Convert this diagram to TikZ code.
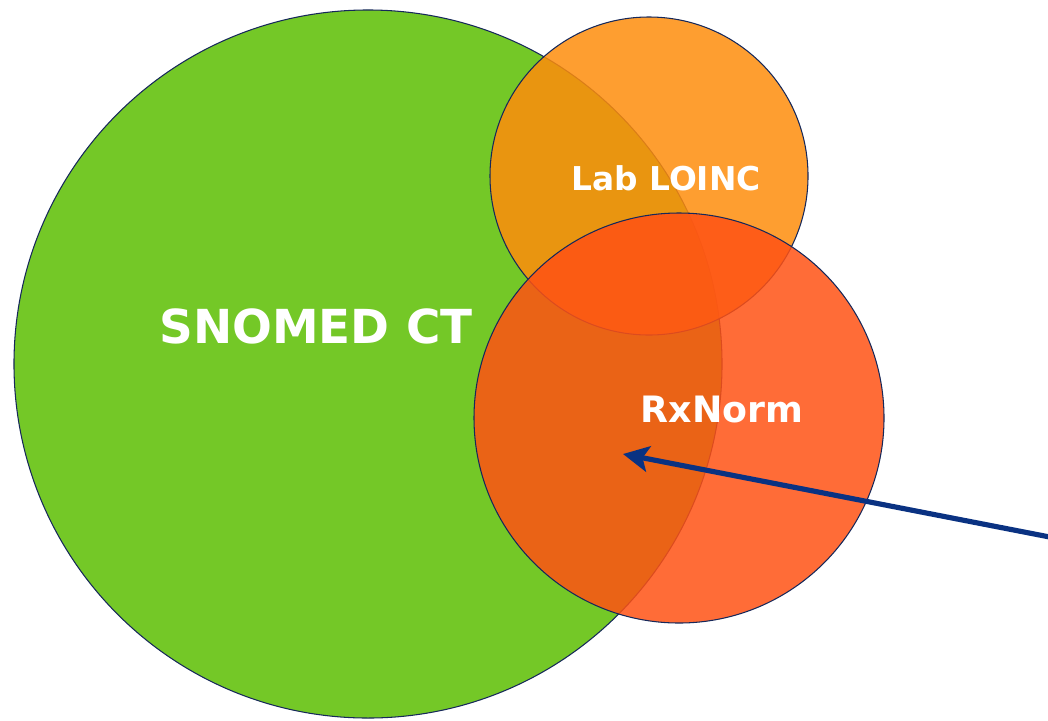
\documentclass[tikz,border=0pt]{standalone}
\usepackage{fontspec}
\setmainfont{DejaVu Sans}
\usetikzlibrary{positioning,arrows.meta}

\definecolor{snomedgreen}{RGB}{116,200,39}
\definecolor{loincorange}{RGB}{254,141,12}
\definecolor{rxred}{RGB}{255,82,20}
\definecolor{rimnavy}{RGB}{22,40,90}
\definecolor{arrownavy}{RGB}{10,50,130}

\begin{document}
\begin{tikzpicture}[x=0.03cm, y=-0.03cm,
        set/.style={circle, draw=rimnavy, line width=0.9pt, inner sep=0pt},
        setlabel/.style={text=white, font=\bfseries},
        pointer/.style={draw=arrownavy, line width=4.4pt,
          -{Stealth[length=22pt,width=22pt,inset=5pt]}}]
        \useasboundingbox (0,0) rectangle (1048,720);
        % the three sets
        \node[set, fill=snomedgreen, minimum size=21.24cm] (snomed) at (368,364) {};
        \node[set, fill=loincorange, fill opacity=0.85, minimum size=9.54cm] (loinc) at (649,176) {};
        \node[set, fill=rxred, fill opacity=0.85, minimum size=12.3cm] (rxnorm) at (679,418) {};
        % labels
        \node[setlabel, font=\bfseries\fontsize{40}{46}\selectfont] (snomedlabel) at (316,326) {SNOMED CT};
        \node[setlabel, font=\bfseries\fontsize{28}{34}\selectfont] (loinclabel) at (666,178) {Lab LOINC};
        \node[setlabel, font=\bfseries\fontsize{31}{36}\selectfont] (rxlabel) at (722,410) {RxNorm};
        % pointer into the overlap
        \coordinate (pointfrom) at (1060,539);
        \coordinate (pointto) at (623,454);
        \draw[pointer] (pointfrom) -- (pointto);
      \end{tikzpicture}
\end{document}
